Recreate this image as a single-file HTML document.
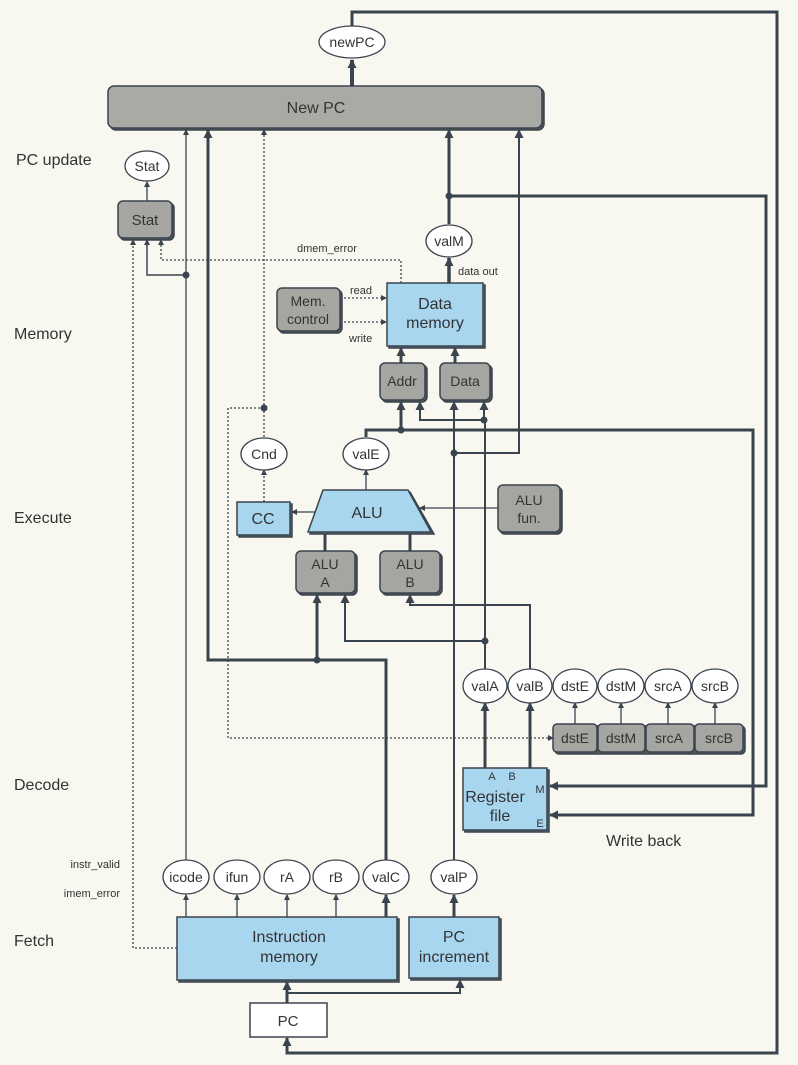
<!DOCTYPE html>
<html><head><meta charset="utf-8"><style>
html,body{margin:0;padding:0;background:#f8f7f0}
svg{display:block}
text{font-family:"Liberation Sans",sans-serif;fill:#333}
</style></head><body>
<svg width="798" height="1065" viewBox="0 0 798 1065" xmlns="http://www.w3.org/2000/svg">
<defs>
<marker id="a" markerWidth="6" markerHeight="6" refX="5" refY="3" orient="auto" markerUnits="userSpaceOnUse"><path d="M0,0 L6,3 L0,6 z" fill="#3a444e"/></marker>
<marker id="b" markerWidth="9" markerHeight="9" refX="8" refY="4.5" orient="auto" markerUnits="userSpaceOnUse"><path d="M0,0 L9,4.5 L0,9 z" fill="#3a444e"/></marker>
</defs>
<rect width="798" height="1065" fill="#f8f7f0"/>
<g fill="none" stroke="#3a444e">
<!-- outer loop newPC -> PC -->
<polyline stroke-width="3" points="352,26 352,12 777,12 777,1053 287,1053 287,1038" marker-end="url(#b)"/>
<line x1="352" y1="86" x2="352" y2="60" stroke-width="4" marker-end="url(#b)"/>
<!-- into New PC -->
<line x1="186" y1="861" x2="186" y2="130" stroke-width="1.3" marker-end="url(#a)"/>
<polyline stroke-width="3" points="386,861 386,660 208,660 208,130" marker-end="url(#b)"/>
<line x1="317" y1="660" x2="317" y2="595" stroke-width="3" marker-end="url(#b)"/>
<line x1="264" y1="437" x2="264" y2="130" stroke-width="1.3" stroke-dasharray="2,2" marker-end="url(#a)"/>
<polyline stroke-width="1.3" stroke-dasharray="2,2" points="264,408 228,408 228,738 553,738" marker-end="url(#a)"/>
<line x1="264" y1="502" x2="264" y2="470" stroke-width="1.3" stroke-dasharray="2,2" marker-end="url(#a)"/>
<line x1="449" y1="224" x2="449" y2="130" stroke-width="3" marker-end="url(#b)"/>
<polyline stroke-width="3" points="449,196 766,196 766,786 550,786" marker-end="url(#b)"/>
<line x1="449" y1="283" x2="449" y2="258" stroke-width="3.5" marker-end="url(#b)"/>
<!-- valE -->
<line x1="366" y1="490" x2="366" y2="470" stroke-width="1.3" marker-end="url(#a)"/>
<polyline stroke-width="3" points="366,437 366,430 753,430 753,815 550,815" marker-end="url(#b)"/>
<line x1="401" y1="430" x2="401" y2="402" stroke-width="3" marker-end="url(#b)"/>
<polyline stroke-width="2" points="485,669 485,420 420,420 420,402" marker-end="url(#b)"/>
<line x1="484" y1="420" x2="484" y2="402" stroke-width="2" marker-end="url(#b)"/>
<polyline stroke-width="2" points="485,641 345,641 345,595" marker-end="url(#b)"/>
<polyline stroke-width="2" points="530,669 530,605 410,605 410,595" marker-end="url(#b)"/>
<!-- valP -->
<line x1="454" y1="861" x2="454" y2="402" stroke-width="2" marker-end="url(#b)"/>
<polyline stroke-width="2" points="454,453 519,453 519,130" marker-end="url(#b)"/>
<!-- Addr/Data to DM -->
<line x1="401" y1="363" x2="401" y2="348" stroke-width="3" marker-end="url(#b)"/>
<line x1="455" y1="363" x2="455" y2="348" stroke-width="3" marker-end="url(#b)"/>
<!-- Stat inputs -->
<line x1="147" y1="201" x2="147" y2="182" stroke-width="1.3" marker-end="url(#a)"/>
<polyline stroke-width="1.5" points="186,275 147,275 147,240" marker-end="url(#a)"/>
<polyline stroke-width="1.3" stroke-dasharray="2,2" points="401,283 401,260 161,260 161,240" marker-end="url(#a)"/>
<polyline stroke-width="1.3" stroke-dasharray="2,2" points="177,948 133,948 133,240" marker-end="url(#a)"/>
<!-- mem control -->
<line x1="340" y1="298" x2="386" y2="298" stroke-width="1.3" stroke-dasharray="2,2" marker-end="url(#a)"/>
<line x1="340" y1="322" x2="386" y2="322" stroke-width="1.3" stroke-dasharray="2,2" marker-end="url(#a)"/>
<!-- ALU -->
<line x1="330" y1="512" x2="292" y2="512" stroke-width="1.3" marker-end="url(#a)"/>
<line x1="498" y1="508" x2="420" y2="508" stroke-width="1.3" marker-end="url(#a)"/>
<line x1="325" y1="551" x2="325" y2="532" stroke-width="3"/>
<line x1="410" y1="551" x2="410" y2="532" stroke-width="3"/>
<!-- reg file -->
<line x1="485" y1="768" x2="485" y2="703" stroke-width="3" marker-end="url(#b)"/>
<line x1="530" y1="768" x2="530" y2="703" stroke-width="3" marker-end="url(#b)"/>
<line x1="575" y1="724" x2="575" y2="703" stroke-width="1.3" marker-end="url(#a)"/>
<line x1="621" y1="724" x2="621" y2="703" stroke-width="1.3" marker-end="url(#a)"/>
<line x1="668" y1="724" x2="668" y2="703" stroke-width="1.3" marker-end="url(#a)"/>
<line x1="715" y1="724" x2="715" y2="703" stroke-width="1.3" marker-end="url(#a)"/>
<!-- fetch outputs -->
<line x1="186" y1="917" x2="186" y2="895" stroke-width="1.3" marker-end="url(#a)"/>
<line x1="237" y1="917" x2="237" y2="895" stroke-width="1.3" marker-end="url(#a)"/>
<line x1="287" y1="917" x2="287" y2="895" stroke-width="1.3" marker-end="url(#a)"/>
<line x1="336" y1="917" x2="336" y2="895" stroke-width="1.3" marker-end="url(#a)"/>
<line x1="386" y1="917" x2="386" y2="895" stroke-width="3" marker-end="url(#b)"/>
<line x1="454" y1="917" x2="454" y2="895" stroke-width="3" marker-end="url(#b)"/>
<line x1="287" y1="1003" x2="287" y2="982" stroke-width="3" marker-end="url(#b)"/>
<polyline stroke-width="2" points="287,993 460,993 460,980" marker-end="url(#b)"/>
</g>
<g fill="#3a444e">
<circle cx="186" cy="275" r="3.5"/><circle cx="449" cy="196" r="3.5"/><circle cx="264" cy="408" r="3.5"/>
<circle cx="401" cy="430" r="3.5"/><circle cx="484" cy="420" r="3.5"/><circle cx="454" cy="453" r="3.5"/>
<circle cx="485" cy="641" r="3.5"/><circle cx="317" cy="660" r="3.5"/>
</g>
<!-- boxes -->
<g stroke="#3a444e" stroke-width="1.5">
<rect x="110" y="88" width="434" height="42" rx="6" fill="#555"/>
<rect x="108" y="86" width="434" height="42" rx="6" fill="#a9a9a6"/>
<rect x="120" y="203" width="54" height="37" rx="5" fill="#555"/>
<rect x="118" y="201" width="54" height="37" rx="5" fill="#a5a5a2"/>
<rect x="279" y="290" width="63" height="43" rx="5" fill="#555"/>
<rect x="277" y="288" width="63" height="43" rx="5" fill="#a5a5a2"/>
<rect x="389" y="285" width="96" height="63" fill="#5a6a78"/>
<rect x="387" y="283" width="96" height="63" fill="#a8d6ef"/>
<rect x="382" y="365" width="45" height="37" rx="5" fill="#555"/>
<rect x="380" y="363" width="45" height="37" rx="5" fill="#a5a5a2"/>
<rect x="442" y="365" width="50" height="37" rx="5" fill="#555"/>
<rect x="440" y="363" width="50" height="37" rx="5" fill="#a5a5a2"/>
<rect x="239" y="504" width="53" height="33" fill="#5a6a78"/>
<rect x="237" y="502" width="53" height="33" fill="#a8d6ef"/>
<path d="M325,492 L410,492 L434,534 L310,534 z" fill="#5a6a78"/>
<path d="M323,490 L408,490 L431,532 L308,532 z" fill="#a8d6ef"/>
<rect x="500" y="487" width="62" height="47" rx="5" fill="#555"/>
<rect x="498" y="485" width="62" height="47" rx="5" fill="#a5a5a2"/>
<rect x="298" y="553" width="59" height="42" rx="5" fill="#555"/>
<rect x="296" y="551" width="59" height="42" rx="5" fill="#a5a5a2"/>
<rect x="382" y="553" width="60" height="42" rx="5" fill="#555"/>
<rect x="380" y="551" width="60" height="42" rx="5" fill="#a5a5a2"/>
<rect x="555" y="726" width="190" height="28" rx="4" fill="#555"/>
<rect x="553" y="724" width="44" height="28" rx="4" fill="#a5a5a2"/>
<rect x="598" y="724" width="47" height="28" rx="4" fill="#a5a5a2"/>
<rect x="646" y="724" width="48" height="28" rx="4" fill="#a5a5a2"/>
<rect x="695" y="724" width="48" height="28" rx="4" fill="#a5a5a2"/>
<rect x="465" y="770" width="84" height="62" fill="#5a6a78"/>
<rect x="463" y="768" width="84" height="62" fill="#a8d6ef"/>
<rect x="179" y="919" width="220" height="63" fill="#5a6a78"/>
<rect x="177" y="917" width="220" height="63" fill="#a8d6ef"/>
<rect x="411" y="919" width="90" height="61" fill="#5a6a78"/>
<rect x="409" y="917" width="90" height="61" fill="#a8d6ef"/>
<rect x="250" y="1003" width="77" height="34" fill="#fff"/>
</g>
<!-- ellipses -->
<g fill="#fff" stroke="#3a444e" stroke-width="1.3">
<ellipse cx="352" cy="42" rx="33" ry="16"/>
<ellipse cx="147" cy="166" rx="22" ry="15"/>
<ellipse cx="449" cy="241" rx="23" ry="16"/>
<ellipse cx="264" cy="454" rx="23" ry="16"/>
<ellipse cx="366" cy="454" rx="23" ry="16"/>
<ellipse cx="485" cy="686" rx="22" ry="17"/><ellipse cx="530" cy="686" rx="22" ry="17"/>
<ellipse cx="575" cy="686" rx="22" ry="17"/><ellipse cx="621" cy="686" rx="23" ry="17"/>
<ellipse cx="668" cy="686" rx="23" ry="17"/><ellipse cx="715" cy="686" rx="23" ry="17"/>
<ellipse cx="186" cy="877" rx="23" ry="17"/><ellipse cx="237" cy="877" rx="23" ry="17"/>
<ellipse cx="287" cy="877" rx="23" ry="17"/><ellipse cx="336" cy="877" rx="23" ry="17"/>
<ellipse cx="386" cy="877" rx="23" ry="17"/><ellipse cx="454" cy="877" rx="23" ry="17"/>
</g>
<g font-size="14" text-anchor="middle">
<text x="352" y="47">newPC</text>
<text x="316" y="113" font-size="16">New PC</text>
<text x="147" y="171">Stat</text>
<text x="145" y="225" font-size="15">Stat</text>
<text x="449" y="246">valM</text>
<text x="308" y="306">Mem.</text><text x="308" y="324">control</text>
<text x="435" y="309" font-size="16">Data</text><text x="435" y="328" font-size="16">memory</text>
<text x="402" y="386">Addr</text><text x="465" y="386">Data</text>
<text x="264" y="459">Cnd</text><text x="366" y="459">valE</text>
<text x="263" y="524" font-size="16">CC</text>
<text x="367" y="518" font-size="16">ALU</text>
<text x="529" y="505">ALU</text><text x="529" y="523">fun.</text>
<text x="325" y="569">ALU</text><text x="325" y="587">A</text>
<text x="410" y="569">ALU</text><text x="410" y="587">B</text>
<text x="485" y="691">valA</text><text x="530" y="691">valB</text><text x="575" y="691">dstE</text>
<text x="621" y="691">dstM</text><text x="668" y="691">srcA</text><text x="715" y="691">srcB</text>
<text x="575" y="743">dstE</text><text x="621" y="743">dstM</text><text x="669" y="743">srcA</text><text x="719" y="743">srcB</text>
<text x="495" y="802" font-size="16">Register</text><text x="500" y="821" font-size="16">file</text>
<text x="492" y="780" font-size="11">A</text><text x="512" y="780" font-size="11">B</text>
<text x="540" y="793" font-size="11">M</text><text x="540" y="827" font-size="11">E</text>
<text x="186" y="882">icode</text><text x="237" y="882">ifun</text><text x="287" y="882">rA</text>
<text x="336" y="882">rB</text><text x="386" y="882">valC</text><text x="454" y="882">valP</text>
<text x="289" y="942" font-size="16">Instruction</text><text x="289" y="962" font-size="16">memory</text>
<text x="454" y="942" font-size="16">PC</text><text x="454" y="962" font-size="16">increment</text>
<text x="288" y="1026" font-size="15">PC</text>
</g>
<g font-size="11" fill="#333">
<text x="297" y="252">dmem_error</text>
<text x="458" y="275">data out</text>
<text x="350" y="294">read</text>
<text x="349" y="342">write</text>
</g>
<g font-size="16">
<text x="16" y="165">PC update</text>
<text x="14" y="339">Memory</text>
<text x="14" y="523">Execute</text>
<text x="14" y="790">Decode</text>
<text x="14" y="946">Fetch</text>
<text x="606" y="846">Write back</text>
</g>
<g font-size="11" text-anchor="end">
<text x="120" y="868">instr_valid</text>
<text x="120" y="897">imem_error</text>
</g>
</svg>
</body></html>
